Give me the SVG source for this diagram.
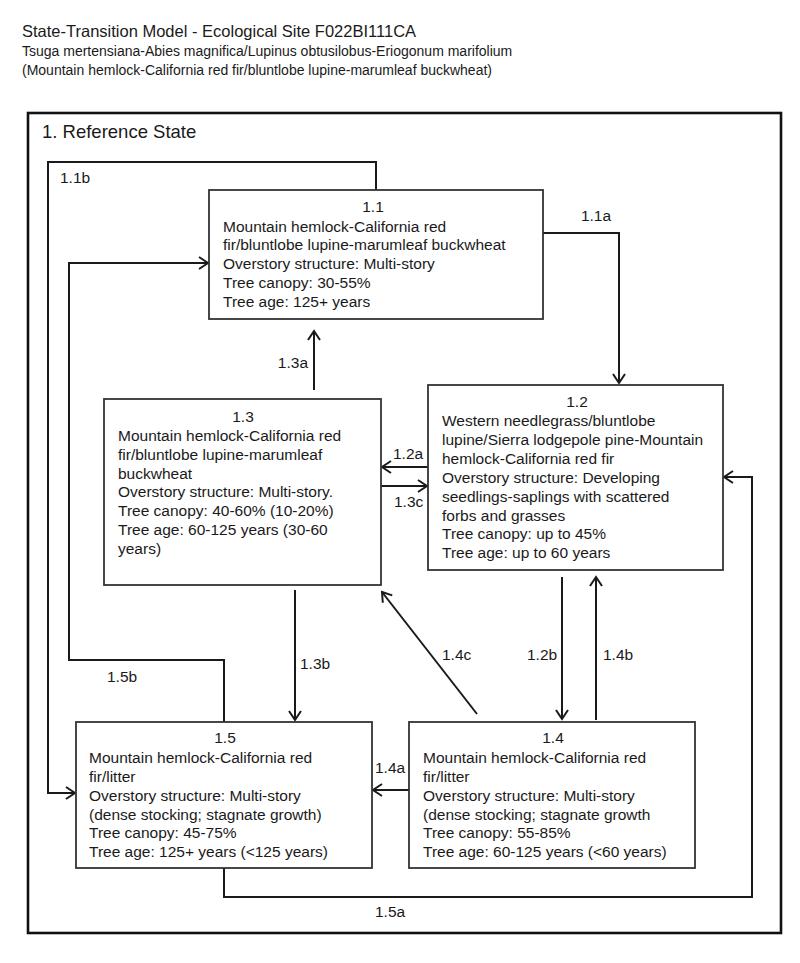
<svg xmlns="http://www.w3.org/2000/svg" width="800" height="963" viewBox="0 0 800 963">
<style>
text{font-family:"Liberation Sans",Arial,sans-serif;fill:#1a1a1a}
.t{font-size:15.5px}
.c{text-anchor:middle}
.e{text-anchor:end}
.box{fill:#fff;stroke:#333;stroke-width:1.8}
.ln{fill:none;stroke:#1a1a1a;stroke-width:2}
</style>
<defs>
<marker id="ah" viewBox="-11 -8 13 16" refX="0" refY="0" markerWidth="13" markerHeight="16" orient="auto" markerUnits="userSpaceOnUse">
<path d="M-9,-6 L0,0 L-9,6" fill="none" stroke="#1a1a1a" stroke-width="2"/>
</marker>
</defs>
<rect width="800" height="963" fill="#fff"/>
<g id="header">
<text x="22" y="37" style="font-size:16.5px">State-Transition Model - Ecological Site F022BI111CA</text>
<text x="22" y="56" style="font-size:14px">Tsuga mertensiana-Abies magnifica/Lupinus obtusilobus-Eriogonum marifolium</text>
<text x="22" y="75" style="font-size:14px">(Mountain hemlock-California red fir/bluntlobe lupine-marumleaf buckwheat)</text>
</g>
<g id="state1">
<rect x="28" y="113" width="753" height="820" fill="none" stroke="#111" stroke-width="2.6"/>
<text x="42" y="138" style="font-size:18.5px">1. Reference State</text>
</g>
<g id="connectors">
<path class="ln" d="M543,233 H619 V383" marker-end="url(#ah)"/>
<path class="ln" d="M376,190 V162 H48 V793 H75" marker-end="url(#ah)"/>
<path class="ln" d="M224,722 V660 H69 V263 H208" marker-end="url(#ah)"/>
<path class="ln" d="M314,390 V331" marker-end="url(#ah)"/>
<path class="ln" d="M428,467 H382" marker-end="url(#ah)"/>
<path class="ln" d="M381,486 H427" marker-end="url(#ah)"/>
<path class="ln" d="M295,590 V720" marker-end="url(#ah)"/>
<path class="ln" d="M477,714 L382,592" marker-end="url(#ah)"/>
<path class="ln" d="M562,577 V719" marker-end="url(#ah)"/>
<path class="ln" d="M596,720 V577" marker-end="url(#ah)"/>
<path class="ln" d="M409,790 H373" marker-end="url(#ah)"/>
<path class="ln" d="M224,868 V897 H752 V477 H724" marker-end="url(#ah)"/>
<g class="t">
<text class="t c" x="596" y="221">1.1a</text>
<text class="t" x="60" y="183">1.1b</text>
<text class="t e" x="308" y="368">1.3a</text>
<text class="t" x="393" y="459">1.2a</text>
<text class="t" x="394" y="507">1.3c</text>
<text class="t" x="300" y="669">1.3b</text>
<text class="t" x="107" y="682">1.5b</text>
<text class="t" x="442" y="660">1.4c</text>
<text class="t" x="527" y="660">1.2b</text>
<text class="t" x="603" y="660">1.4b</text>
<text class="t" x="375" y="773">1.4a</text>
<text class="t" x="375" y="917">1.5a</text>
</g>
</g>
<g id="n1_1">
<rect class="box" x="209" y="190" width="334" height="129"/>
<text class="t c" x="373" y="212">1.1</text>
<text class="t" x="223" y="232">Mountain hemlock-California red</text>
<text class="t" x="223" y="250">fir/bluntlobe lupine-marumleaf buckwheat</text>
<text class="t" x="223" y="269">Overstory structure: Multi-story</text>
<text class="t" x="223" y="288">Tree canopy: 30-55%</text>
<text class="t" x="223" y="307">Tree age: 125+ years</text>
</g>
<g id="n1_3">
<rect class="box" x="104" y="399" width="277" height="186"/>
<text class="t c" x="243" y="422">1.3</text>
<text class="t" x="118" y="441">Mountain hemlock-California red</text>
<text class="t" x="118" y="460">fir/bluntlobe lupine-marumleaf</text>
<text class="t" x="118" y="479">buckwheat</text>
<text class="t" x="118" y="497">Overstory structure: Multi-story.</text>
<text class="t" x="118" y="516">Tree canopy: 40-60% (10-20%)</text>
<text class="t" x="118" y="535">Tree age: 60-125 years (30-60</text>
<text class="t" x="118" y="554">years)</text>
</g>
<g id="n1_2">
<rect class="box" x="428" y="385" width="295" height="185"/>
<text class="t c" x="577" y="407">1.2</text>
<text class="t" x="442" y="426">Western needlegrass/bluntlobe</text>
<text class="t" x="442" y="445">lupine/Sierra lodgepole pine-Mountain</text>
<text class="t" x="442" y="464">hemlock-California red fir</text>
<text class="t" x="442" y="483">Overstory structure: Developing</text>
<text class="t" x="442" y="502">seedlings-saplings with scattered</text>
<text class="t" x="442" y="521">forbs and grasses</text>
<text class="t" x="442" y="539">Tree canopy: up to 45%</text>
<text class="t" x="442" y="558">Tree age: up to 60 years</text>
</g>
<g id="n1_5">
<rect class="box" x="76" y="722" width="296" height="146"/>
<text class="t c" x="225" y="743">1.5</text>
<text class="t" x="89" y="763">Mountain hemlock-California red</text>
<text class="t" x="89" y="782">fir/litter</text>
<text class="t" x="89" y="801">Overstory structure: Multi-story</text>
<text class="t" x="89" y="820">(dense stocking; stagnate growth)</text>
<text class="t" x="89" y="838">Tree canopy: 45-75%</text>
<text class="t" x="89" y="857">Tree age: 125+ years (&lt;125 years)</text>
</g>
<g id="n1_4">
<rect class="box" x="409" y="722" width="286" height="146"/>
<text class="t c" x="553" y="743">1.4</text>
<text class="t" x="423" y="763">Mountain hemlock-California red</text>
<text class="t" x="423" y="782">fir/litter</text>
<text class="t" x="423" y="801">Overstory structure: Multi-story</text>
<text class="t" x="423" y="820">(dense stocking; stagnate growth</text>
<text class="t" x="423" y="838">Tree canopy: 55-85%</text>
<text class="t" x="423" y="857">Tree age: 60-125 years (&lt;60 years)</text>
</g>
</svg>
